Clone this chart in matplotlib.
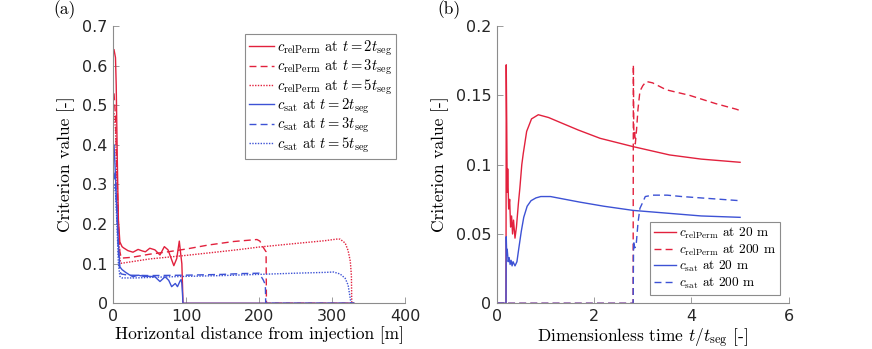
import matplotlib
matplotlib.use("Agg")
import matplotlib.pyplot as plt

plt.rcParams['mathtext.fontset'] = 'cm'
plt.rcParams['axes.unicode_minus'] = False

RED = '#e2213d'
BLUE = '#3d52d5'

# ---------------- Panel (a) data ----------------
x_r2 = [1, 3, 4, 5.5, 7, 9, 12, 14, 20, 27, 34, 40, 44, 50, 57, 64, 70, 75, 80, 83, 87, 90.5, 92.4, 94, 95, 95.5, 330]
v_r2 = [0.64, 0.62, 0.55, 0.36, 0.21, 0.155, 0.143, 0.14, 0.133, 0.129, 0.136, 0.132, 0.130, 0.139, 0.135, 0.122, 0.143, 0.135, 0.11, 0.095, 0.113, 0.157, 0.125, 0.1, 0.04, 0, 0]

x_r3 = [1, 3, 5, 7, 9, 11, 25, 50, 75, 100, 130, 165, 197, 201, 206, 209.5, 210, 330]
v_r3 = [0.53, 0.47, 0.33, 0.2, 0.13, 0.114, 0.116, 0.124, 0.13, 0.137, 0.147, 0.156, 0.161, 0.157, 0.14, 0.13, 0, 0]

x_r5 = [1, 3, 5, 7, 9, 11, 50, 100, 150, 174, 200, 250, 290, 306, 311, 318, 322, 325, 326.5, 327, 330]
v_r5 = [0.48, 0.44, 0.30, 0.18, 0.11, 0.101, 0.112, 0.121, 0.131, 0.136, 0.142, 0.151, 0.158, 0.162, 0.162, 0.152, 0.133, 0.106, 0.07, 0, 0]

x_b2 = [1, 2.3, 4.6, 7, 9, 12, 17, 22, 27, 34, 42, 50, 57, 64, 71, 76, 80, 85, 88, 91.5, 93, 94, 95, 95.5, 330]
v_b2 = [0.40, 0.35, 0.25, 0.15, 0.092, 0.085, 0.078, 0.072, 0.067, 0.071, 0.068, 0.068, 0.067, 0.055, 0.067, 0.058, 0.042, 0.05, 0.042, 0.056, 0.06, 0.05, 0.02, 0, 0]

x_b3 = [1, 3, 5, 7, 9, 11, 20, 50, 100, 150, 175, 200, 205.6, 208.5, 209, 330]
v_b3 = [0.33, 0.30, 0.22, 0.13, 0.08, 0.074, 0.071, 0.070, 0.071, 0.073, 0.075, 0.076, 0.059, 0.047, 0, 0]

x_b5 = [1, 3, 5, 7, 9, 12, 30, 60, 100, 150, 174, 200, 250, 290, 302, 311, 318, 322, 325.6, 326, 330]
v_b5 = [0.30, 0.28, 0.20, 0.10, 0.068, 0.064, 0.064, 0.066, 0.068, 0.070, 0.0715, 0.073, 0.076, 0.078, 0.079, 0.074, 0.063, 0.046, 0.004, 0, 0]

labels_a = [r'$c_{\mathrm{relPerm}}$ at $t=2t_{\mathrm{seg}}$',
            r'$c_{\mathrm{relPerm}}$ at $t=3t_{\mathrm{seg}}$',
            r'$c_{\mathrm{relPerm}}$ at $t=5t_{\mathrm{seg}}$',
            r'$c_{\mathrm{sat}}$ at $t=2t_{\mathrm{seg}}$',
            r'$c_{\mathrm{sat}}$ at $t=3t_{\mathrm{seg}}$',
            r'$c_{\mathrm{sat}}$ at $t=5t_{\mathrm{seg}}$']

# ---------------- Panel (b) data ----------------
t_r20 = [0, 0.185, 0.19, 0.2, 0.21, 0.22, 0.24, 0.26, 0.28, 0.3, 0.32, 0.34, 0.37, 0.4, 0.44, 0.47, 0.51, 0.54, 0.61, 0.71, 0.85, 1.06, 1.33, 1.67, 2.12, 2.8, 3.55, 4.2, 5.0]
v_r20 = [0, 0, 0.172, 0.13, 0.08, 0.097, 0.068, 0.075, 0.055, 0.063, 0.05, 0.06, 0.047, 0.055, 0.072, 0.083, 0.10, 0.108, 0.124, 0.133, 0.136, 0.134, 0.130, 0.125, 0.119, 0.113, 0.107, 0.104, 0.1017]

t_r200 = [0, 2.8, 2.805, 2.815, 2.83, 2.845, 2.87, 2.9, 2.94, 3.0, 3.07, 3.2, 3.48, 3.96, 4.5, 4.92, 5.0]
v_r200 = [0, 0, 0.172, 0.12, 0.125, 0.115, 0.125, 0.14, 0.153, 0.157, 0.160, 0.159, 0.154, 0.150, 0.144, 0.140, 0.139]

t_b20 = [0, 0.185, 0.19, 0.2, 0.21, 0.23, 0.25, 0.27, 0.29, 0.31, 0.33, 0.37, 0.41, 0.45, 0.5, 0.55, 0.62, 0.7, 0.8, 0.9, 1.1, 1.4, 1.7, 2.2, 2.8, 3.5, 4.2, 5.0]
v_b20 = [0, 0, 0.048, 0.035, 0.039, 0.03, 0.033, 0.028, 0.031, 0.027, 0.03, 0.027, 0.03, 0.04, 0.052, 0.062, 0.07, 0.074, 0.076, 0.077, 0.077, 0.075, 0.073, 0.070, 0.067, 0.065, 0.063, 0.062]

t_b200 = [0, 2.8, 2.81, 2.83, 2.86, 2.9, 2.94, 3.0, 3.05, 3.2, 3.5, 3.8, 4.2, 4.6, 5.0]
v_b200 = [0, 0, 0.045, 0.04, 0.041, 0.058, 0.0685, 0.073, 0.077, 0.078, 0.078, 0.077, 0.076, 0.075, 0.074]

labels_b = [r'$c_{\mathrm{relPerm}}$ at 20 m',
            r'$c_{\mathrm{relPerm}}$ at 200 m',
            r'$c_{\mathrm{sat}}$ at 20 m',
            r'$c_{\mathrm{sat}}$ at 200 m']

xticks_a = [0, 100, 200, 300, 400]
yticks_a = [0, 0.1, 0.2, 0.3, 0.4, 0.5, 0.6, 0.7]
xticks_b = [0, 2, 4, 6]
yticks_b = [0, 0.05, 0.1, 0.15, 0.2]

W, H = 872, 349
fig = plt.figure(figsize=(W / 100, H / 100), dpi=100)

def px_axes(x0, x1, ytop, ybot):
    return [x0 / W, 1 - ybot / H, (x1 - x0) / W, (ybot - ytop) / H]

ax1 = fig.add_axes(px_axes(113.3, 405, 26, 303.3))
ax2 = fig.add_axes(px_axes(497, 788.7, 26, 303.3))

LW = 1.0
DASH = (0, (5, 3))
DOT = (0, (1, 1))
SERIF = 'cmr10'

def leg_kw(size, spacing):
    return dict(prop={'family': SERIF, 'size': size}, frameon=True, fancybox=False,
                edgecolor='#8c8c8c', framealpha=1, handlelength=1.7, handletextpad=0.2,
                labelspacing=spacing, borderpad=0.3, borderaxespad=0)

def style_axes(ax):
    for s in ['top', 'right']:
        ax.spines[s].set_visible(False)
    for s in ['left', 'bottom']:
        ax.spines[s].set_color('#8c8c8c')
        ax.spines[s].set_linewidth(0.8)
    ax.tick_params(direction='in', length=4, width=0.6, color='#8c8c8c',
                   labelsize=11.5, labelcolor='#262626', pad=4)

# Panel (a)
ax1.plot(x_r2, v_r2, color=RED, lw=LW, ls='-', label=labels_a[0])
ax1.plot(x_r3, v_r3, color=RED, lw=LW, ls=DASH, label=labels_a[1])
ax1.plot(x_r5, v_r5, color=RED, lw=LW, ls=DOT, label=labels_a[2])
ax1.plot(x_b2, v_b2, color=BLUE, lw=LW, ls='-', label=labels_a[3])
ax1.plot(x_b3, v_b3, color=BLUE, lw=LW, ls=DASH, label=labels_a[4])
ax1.plot(x_b5, v_b5, color=BLUE, lw=LW, ls=DOT, label=labels_a[5])
ax1.set_xlim(0, 400)
ax1.set_ylim(0, 0.7)
ax1.set_xticks(xticks_a)
ax1.set_yticks(yticks_a)
ax1.set_yticklabels(['0', '0.1', '0.2', '0.3', '0.4', '0.5', '0.6', '0.7'])
style_axes(ax1)
ax1.set_xlabel('Horizontal distance from injection [m]', family=SERIF, fontsize=12.5, labelpad=2)
ax1.set_ylabel('Criterion value [-]', family=SERIF, fontsize=12.5, labelpad=5)
leg1 = ax1.legend(loc='upper left', bbox_to_anchor=(0.4515, 0.971), **leg_kw(10.5, 0.0))
leg1.get_frame().set_linewidth(0.8)

# Panel (b)
ax2.plot(t_r20, v_r20, color=RED, lw=LW, ls='-', label=labels_b[0])
ax2.plot(t_r200, v_r200, color=RED, lw=LW, ls=DASH, label=labels_b[1])
ax2.plot(t_b20, v_b20, color=BLUE, lw=LW, ls='-', label=labels_b[2])
ax2.plot(t_b200, v_b200, color=BLUE, lw=LW, ls=DASH, label=labels_b[3])
ax2.set_xlim(0, 6)
ax2.set_ylim(0, 0.2)
ax2.set_xticks(xticks_b)
ax2.set_yticks(yticks_b)
ax2.set_yticklabels(['0', '0.05', '0.1', '0.15', '0.2'])
style_axes(ax2)
ax2.set_xlabel(r'Dimensionless time $t/t_{\mathrm{seg}}$ [-]', family=SERIF, fontsize=12.5, labelpad=2)
ax2.set_ylabel('Criterion value [-]', family=SERIF, fontsize=12.5, labelpad=5)
leg2 = ax2.legend(loc='lower right', bbox_to_anchor=(0.970, 0.030), **leg_kw(9.6, 0.1))
leg2.get_frame().set_linewidth(0.8)

fig.text(53 / W, 1 - 10 / H, '(a)', family=SERIF, fontsize=12.5, ha='left', va='center')
fig.text(437 / W, 1 - 10 / H, '(b)', family=SERIF, fontsize=12.5, ha='left', va='center')

fig.savefig('out.png', dpi=100)
